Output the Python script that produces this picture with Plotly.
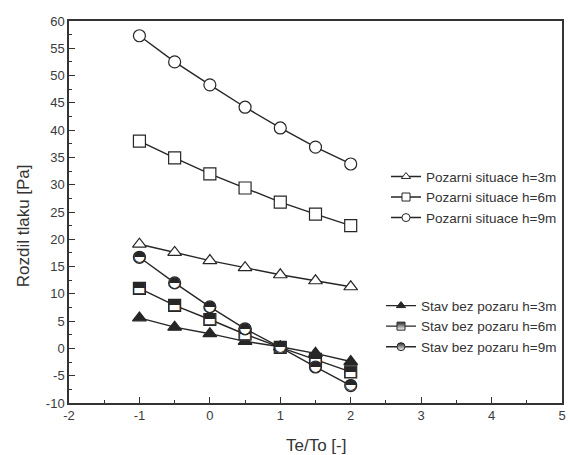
import plotly.graph_objects as go

te_to = [-1, -0.5, 0, 0.5, 1, 1.5, 2]

poz_h3 = [19.1, 17.6, 16.1, 14.8, 13.5, 12.4, 11.3]
poz_h6 = [38.0, 34.9, 32.0, 29.4, 26.8, 24.6, 22.5]
poz_h9 = [57.3, 52.5, 48.3, 44.2, 40.4, 36.9, 33.8]
stav_h3 = [5.6, 3.9, 2.7, 1.3, 0.3, -0.9, -2.4]
stav_h6 = [11.0, 7.9, 5.3, 2.6, 0.2, -2.0, -4.3]
stav_h9 = [16.7, 12.0, 7.6, 3.6, 0.2, -3.4, -6.8]

x_ticks = [-2, -1, 0, 1, 2, 3, 4, 5]
y_ticks = [-10, -5, 0, 5, 10, 15, 20, 25, 30, 35, 40, 45, 50, 55, 60]

labels_poz = ["Pozarni situace h=3m", "Pozarni situace h=6m", "Pozarni situace h=9m"]
labels_stav = ["Stav bez pozaru h=3m", "Stav bez pozaru h=6m", "Stav bez pozaru h=9m"]
x_title = "Te/To [-]"
y_title = "Rozdil tlaku [Pa]"

INK = "#262626"
FONT = "Liberation Sans, Arial, sans-serif"

fig = go.Figure()

def series(y, symbol, fill):
    fig.add_trace(go.Scatter(
        x=te_to, y=y, mode="lines+markers", showlegend=False,
        line=dict(color=INK, width=1.4),
        marker=dict(symbol=symbol, size=12, color=fill,
                    line=dict(color=INK, width=1.2)),
        hoverinfo="skip"))

def half(y, glyph, size):
    fig.add_trace(go.Scatter(
        x=te_to, y=y, mode="text", text=[glyph] * len(te_to),
        textposition="middle center", showlegend=False,
        textfont=dict(family="DejaVu Sans", size=size, color=INK),
        hoverinfo="skip"))

series(poz_h3, "triangle-up", "white")
series(poz_h6, "square", "white")
series(poz_h9, "circle", "white")
series(stav_h3, "triangle-up", INK)
series(stav_h6, "square", "white")
half(stav_h6, "\u2b12", 15)
series(stav_h9, "circle", "white")
half(stav_h9, "\u25d3", 15)

def legend_item(name, symbol, fill, legend, grad=None):
    m = dict(symbol=symbol, size=8, color=fill, line=dict(color=INK, width=1))
    if grad:
        m["gradient"] = dict(type="vertical", color=grad)
    fig.add_trace(go.Scatter(
        x=[None], y=[None], mode="lines+markers", name=name, legend=legend,
        line=dict(color=INK, width=1.4), marker=m))

legend_item(labels_poz[0], "triangle-up", "white", "legend")
legend_item(labels_poz[1], "square", "white", "legend")
legend_item(labels_poz[2], "circle", "white", "legend")
legend_item(labels_stav[0], "triangle-up", INK, "legend2")
legend_item(labels_stav[1], "square", INK, "legend2", grad="white")
legend_item(labels_stav[2], "circle", INK, "legend2", grad="white")

axis_common = dict(
    showline=True, linecolor="#333", linewidth=1.5, mirror=True,
    ticks="inside", ticklen=6, tickwidth=1.2, tickcolor="#333",
    showgrid=False, zeroline=False, automargin=False,
    tickfont=dict(family=FONT, size=13, color="#3a3a3a"),
)

fig.update_layout(
    width=570, height=455,
    margin=dict(l=69, r=8, t=21, b=52),
    paper_bgcolor="white", plot_bgcolor="white",
    font=dict(family=FONT, color="#333"),
    xaxis=dict(range=[-2, 5], tickvals=x_ticks, ticktext=[str(v) for v in x_ticks],
               minor=dict(dtick=0.5, ticks="inside", ticklen=3, tickcolor="#333"),
               **axis_common),
    yaxis=dict(range=[-10, 60], tickvals=y_ticks, ticktext=[str(v) for v in y_ticks],
               minor=dict(dtick=2.5, ticks="inside", ticklen=3, tickcolor="#333"),
               **axis_common),
    legend=dict(x=1, xanchor="right", y=0.633, yanchor="top",
                bgcolor="rgba(0,0,0,0)", font=dict(size=13.5, family=FONT, color="#333"),
                tracegroupgap=0, itemsizing="trace"),
    legend2=dict(x=1, xanchor="right", y=0.295, yanchor="top",
                 bgcolor="rgba(0,0,0,0)", font=dict(size=13.5, family=FONT, color="#333"),
                 tracegroupgap=0, itemsizing="trace"),
    annotations=[
        dict(text=x_title, xref="paper", yref="paper", x=0.5, y=-0.11,
             xanchor="center", yanchor="middle", showarrow=False,
             font=dict(size=17, family=FONT, color="#333")),
        dict(text=y_title, xref="paper", yref="paper", x=-0.093, y=0.463,
             xanchor="center", yanchor="middle", showarrow=False, textangle=-90,
             font=dict(size=17, family=FONT, color="#333")),
    ],
)

fig.write_html("out.html", config={"displayModeBar": False},
               post_script="document.body.style.margin='0';document.body.style.overflow='hidden';")
